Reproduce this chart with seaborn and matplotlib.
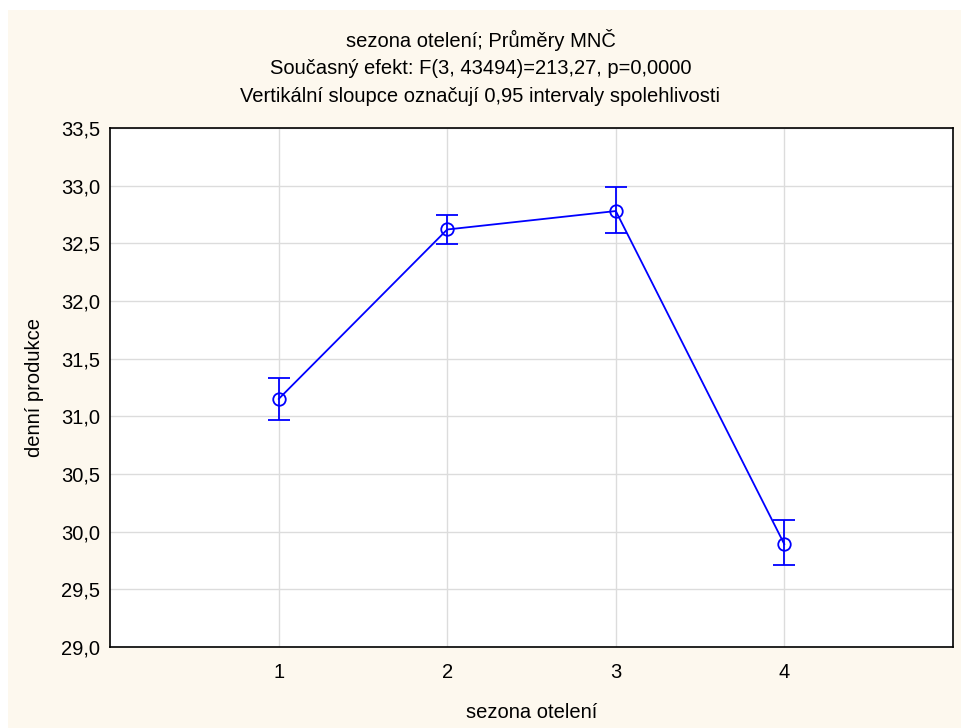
import matplotlib
matplotlib.use("Agg")
import matplotlib.pyplot as plt
import seaborn as sns
import pandas as pd
from matplotlib.patches import Rectangle

season = [1, 2, 3, 4]
means = [31.15, 32.62, 32.78, 29.89]
ci_low = [30.97, 32.49, 32.59, 29.71]
ci_high = [31.33, 32.75, 32.99, 30.10]
yticks = [29.0, 29.5, 30.0, 30.5, 31.0, 31.5, 32.0, 32.5, 33.0, 33.5]
xticks = [1, 2, 3, 4]

sns.set_theme(style="white")
plt.rcParams['font.family'] = ['Liberation Sans', 'DejaVu Sans']
plt.rcParams['text.color'] = 'black'

FS = 14.5
fig = plt.figure(figsize=(9.61, 7.28), dpi=100, facecolor="white")
fig.patches.append(Rectangle((8 / 961, 0), 1 - 8 / 961, 718 / 728, transform=fig.transFigure,
                             facecolor="#FDF8EE", edgecolor="none", zorder=-10))
ax = fig.add_axes([110 / 961, 81 / 728, 843 / 961, 519 / 728])
ax.set_facecolor("white")

df = pd.DataFrame({"sezona": season, "mean": means})
blue = "#0000FF"
err_lo = [m - l for m, l in zip(means, ci_low)]
err_hi = [h - m for m, h in zip(means, ci_high)]
ax.errorbar(season, means, yerr=[err_lo, err_hi], fmt="none", ecolor=blue,
            elinewidth=1.3, capsize=8, capthick=1.3, zorder=3)
sns.lineplot(data=df, x="sezona", y="mean", ax=ax, color=blue, linewidth=1.3,
             marker="o", markersize=9, markerfacecolor="none", markeredgecolor=blue,
             markeredgewidth=1.3, zorder=4)

ax.set_xlim(0, 5)
ax.set_ylim(29.0, 33.5)
ax.set_xticks(xticks)
ax.set_xticklabels([str(x) for x in xticks])
ax.set_yticks(yticks)
ax.set_yticklabels([f"{v:.1f}".replace(".", ",") for v in yticks])
ax.grid(True, color="#DCDCDC", linewidth=1.0)
ax.set_axisbelow(True)
for s in ax.spines.values():
    s.set_color("black")
    s.set_linewidth(1.2)
    s.set_visible(True)
ax.tick_params(axis="x", direction="in", length=4, width=1, color="black",
               labelsize=FS, labelcolor="black", pad=11.5)
ax.tick_params(axis="y", direction="in", length=0, labelsize=FS, labelcolor="black", pad=7)

ax.set_xlabel("sezona otelení", fontsize=FS, color="black", va="center")
ax.xaxis.set_label_coords(0.5, (647 - 712) / 519)
ax.set_ylabel("denní produkce", fontsize=FS, color="black", va="center")
ax.yaxis.set_label_coords((35 - 110) / 843, 0.5)

fig.text(0.5, 1 - 40 / 728, "sezona otelení; Průměry MNČ", ha="center", va="center",
         fontsize=FS, color="black")
fig.text(0.5, 1 - 68 / 728, "Současný efekt: F(3, 43494)=213,27, p=0,0000", ha="center", va="center",
         fontsize=FS, color="black")
fig.text(0.5, 1 - 96 / 728, "Vertikální sloupce označují 0,95 intervaly spolehlivosti", ha="center",
         va="center", fontsize=FS, color="black")

fig.savefig("out.png", dpi=100, facecolor=fig.get_facecolor())
